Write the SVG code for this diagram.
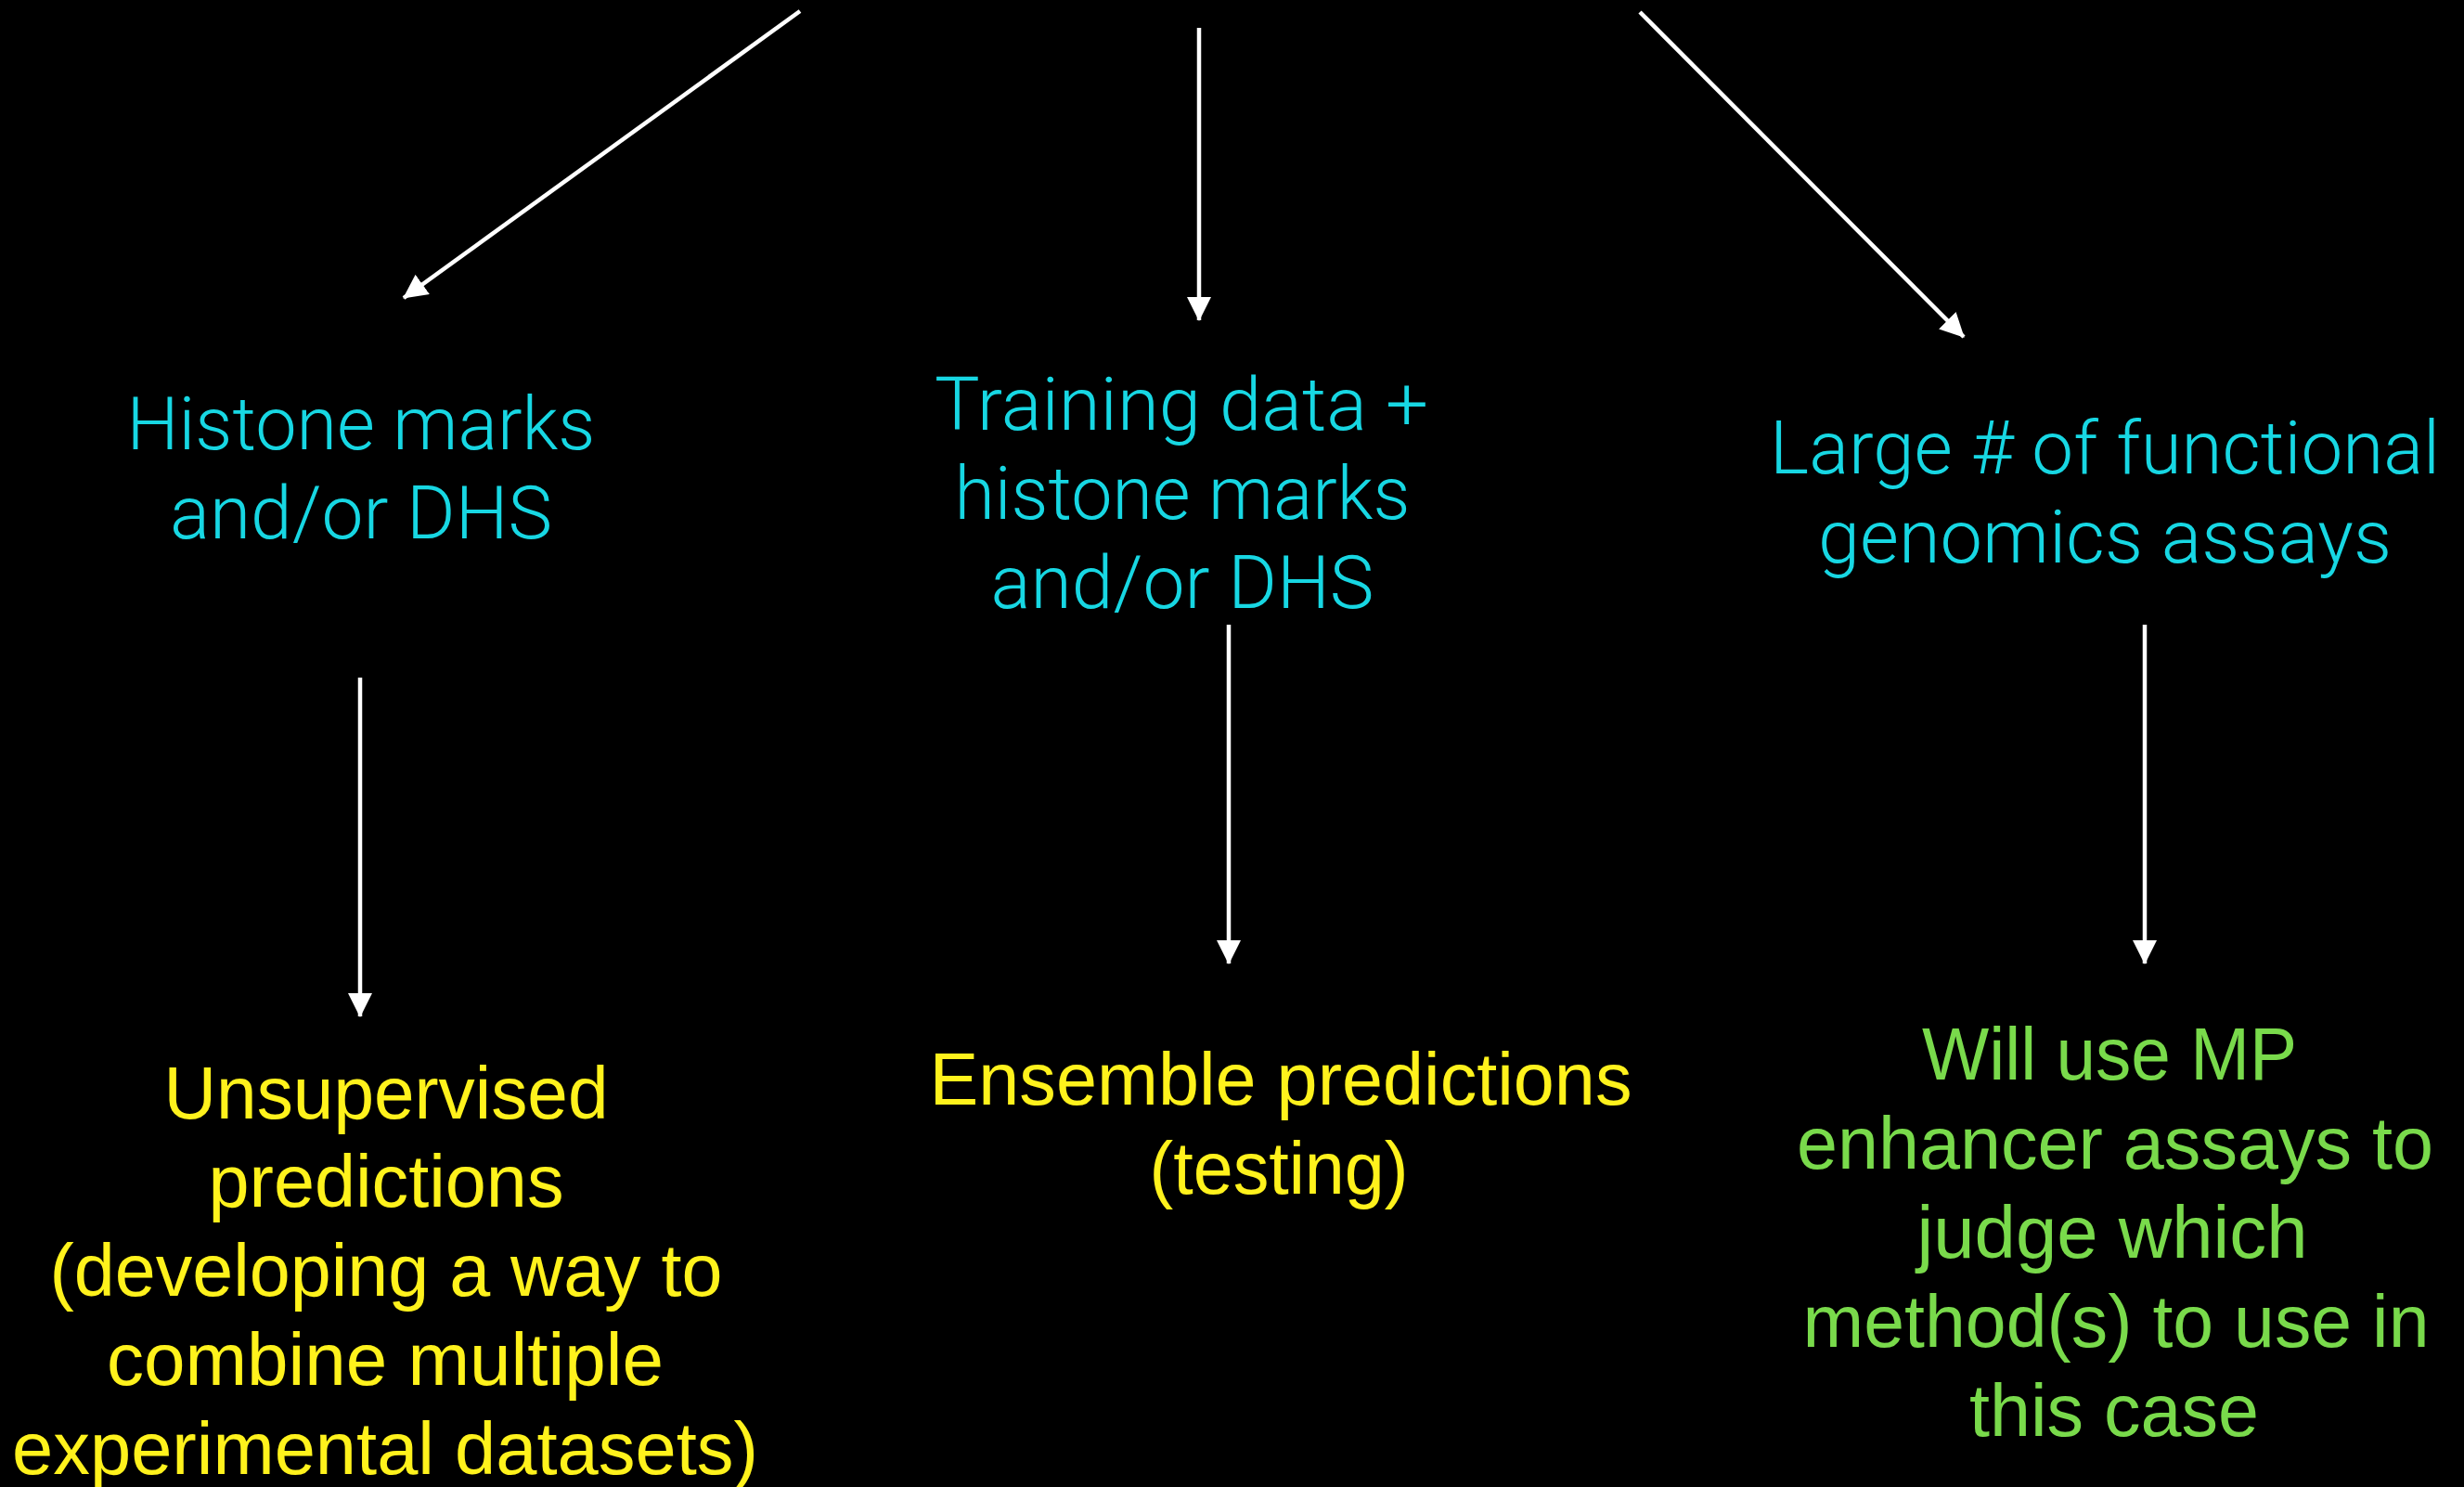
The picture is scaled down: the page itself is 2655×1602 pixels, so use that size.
<svg xmlns="http://www.w3.org/2000/svg" width="2655" height="1602" viewBox="0 0 2655 1602">
  <style>
    .cyan { fill: #17d7e3; font-family: "Roboto", "Liberation Sans", "DejaVu Sans", sans-serif; font-weight: 300; font-size: 80px; text-anchor: middle; }
    .yellow { fill: #fff21c; font-family: "Liberation Sans", "Noto Sans", sans-serif; font-size: 80px; text-anchor: middle; }
    .green { fill: #79da4b; font-family: "Liberation Sans", "Noto Sans", sans-serif; font-size: 80px; text-anchor: middle; }
    .conn { stroke: #ffffff; stroke-width: 4.5; fill: none; marker-end: url(#arrow); }
  </style>
  <defs>
    <marker id="arrow" markerUnits="userSpaceOnUse" markerWidth="26" markerHeight="26" viewBox="0 0 26 26" refX="25" refY="13" orient="auto">
      <path d="M0,0 L26,13 L0,26 z" fill="#ffffff"/>
    </marker>
  </defs>
  <rect x="0" y="0" width="2655" height="1602" fill="#000000"/>

  <g id="connectors">
    <line class="conn" x1="862" y1="12" x2="435" y2="321"/>
    <line class="conn" x1="1292" y1="30" x2="1292" y2="345"/>
    <line class="conn" x1="1767" y1="13" x2="2116" y2="363"/>
    <line class="conn" x1="388" y1="730" x2="388" y2="1095"/>
    <line class="conn" x1="1324" y1="673" x2="1324" y2="1038"/>
    <line class="conn" x1="2311" y1="673" x2="2311" y2="1038"/>
  </g>

  <g id="node-histone">
    <text class="cyan" x="389" y="484" textLength="505" lengthAdjust="spacingAndGlyphs">Histone marks</text>
    <text class="cyan" x="389" y="580" textLength="412" lengthAdjust="spacingAndGlyphs">and/or DHS</text>
  </g>

  <g id="node-training">
    <text class="cyan" x="1273" y="463" textLength="532" lengthAdjust="spacingAndGlyphs">Training data +</text>
    <text class="cyan" x="1274" y="559" textLength="491" lengthAdjust="spacingAndGlyphs">histone marks</text>
    <text class="cyan" x="1274" y="655" textLength="413" lengthAdjust="spacingAndGlyphs">and/or DHS</text>
  </g>

  <g id="node-functional">
    <text class="cyan" x="2268" y="510" textLength="722" lengthAdjust="spacingAndGlyphs">Large # of functional</text>
    <text class="cyan" x="2268" y="606" textLength="618" lengthAdjust="spacingAndGlyphs">genomics assays</text>
  </g>

  <g id="node-unsupervised">
    <text class="yellow" x="416" y="1205" textLength="479" lengthAdjust="spacingAndGlyphs">Unsupervised</text>
    <text class="yellow" x="416" y="1300" textLength="383" lengthAdjust="spacingAndGlyphs">predictions</text>
    <text class="yellow" x="416" y="1396" textLength="725" lengthAdjust="spacingAndGlyphs">(developing a way to</text>
    <text class="yellow" x="415" y="1492" textLength="600" lengthAdjust="spacingAndGlyphs">combine multiple</text>
    <text class="yellow" x="415" y="1588" textLength="804" lengthAdjust="spacingAndGlyphs">experimental datasets)</text>
  </g>

  <g id="node-ensemble">
    <text class="yellow" x="1380" y="1190" textLength="757" lengthAdjust="spacingAndGlyphs">Ensemble predictions</text>
    <text class="yellow" x="1378" y="1286" textLength="279" lengthAdjust="spacingAndGlyphs">(testing)</text>
  </g>

  <g id="node-mp">
    <text class="green" x="2273" y="1163" textLength="404" lengthAdjust="spacingAndGlyphs">Will use MP</text>
    <text class="green" x="2279" y="1259" textLength="686" lengthAdjust="spacingAndGlyphs">enhancer assays to</text>
    <text class="green" x="2276" y="1355" textLength="421" lengthAdjust="spacingAndGlyphs">judge which</text>
    <text class="green" x="2280" y="1451" textLength="675" lengthAdjust="spacingAndGlyphs">method(s) to use in</text>
    <text class="green" x="2278" y="1547" textLength="312" lengthAdjust="spacingAndGlyphs">this case</text>
  </g>
</svg>
